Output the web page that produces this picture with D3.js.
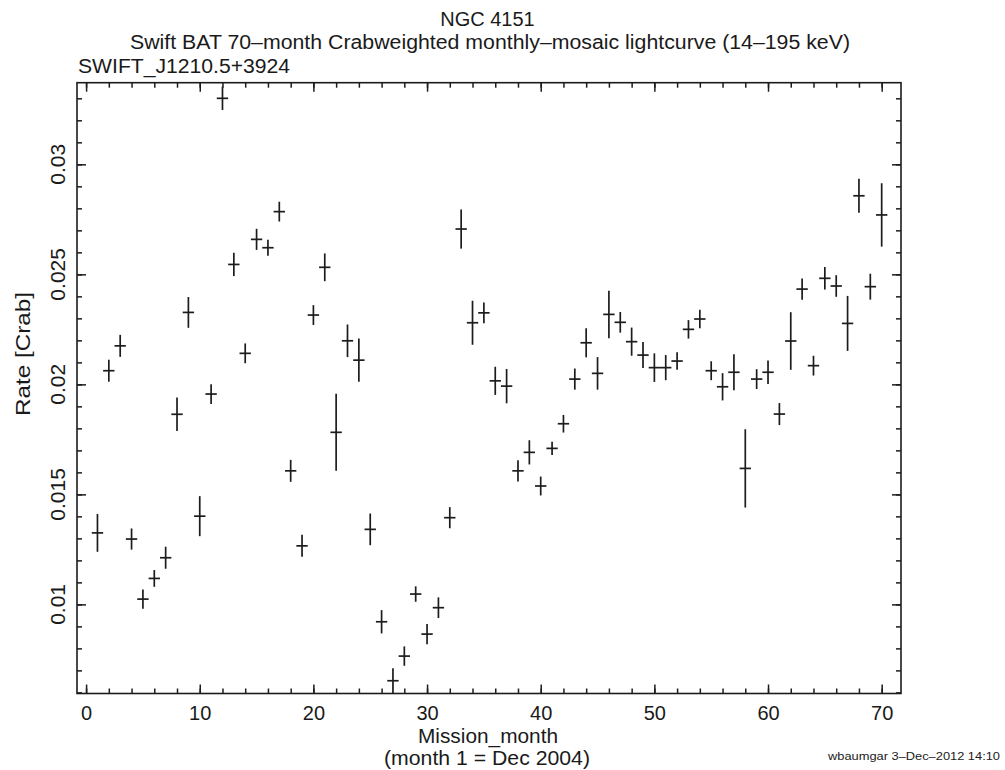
<!DOCTYPE html>
<html>
<head>
<meta charset="utf-8">
<script src="https://cdn.jsdelivr.net/npm/d3@7"></script>
<style>
html,body{margin:0;padding:0;background:#fff;}
svg text{font-family:"Liberation Sans",Arial,Helvetica,sans-serif;fill:#1a1a1a;}
</style>
</head>
<body>
<svg id="chart" width="1005" height="770"></svg>
<script>
// Mission months
const months = [1,2,3,4,5,6,7,8,9,10,11,12,13,14,15,16,17,18,19,20,21,22,23,24,25,26,27,28,29,30,31,32,33,34,35,36,37,38,39,40,41,42,43,44,45,46,47,48,49,50,51,52,53,54,55,56,57,58,59,60,61,62,63,64,65,66,67,68,69,70];
// Rate [Crab]
const rates = [0.01325,0.02062,0.02175,0.01297,0.01024,0.01118,0.01212,0.01864,0.02327,0.01401,
0.01956,0.0330,0.02545,0.02141,0.02659,0.02621,0.02785,0.01607,0.01266,0.02315,
0.02532,0.01782,0.02198,0.0211,0.01341,0.00921,0.00653,0.00765,0.01047,0.00865,
0.00985,0.01394,0.02706,0.0228,0.02325,0.02016,0.01992,0.01607,0.01691,0.01538,
0.01709,0.01821,0.02024,0.02189,0.0205,0.02318,0.02282,0.02194,0.02133,0.02076,
0.02076,0.02106,0.0225,0.02297,0.02062,0.01989,0.02055,0.01618,0.02024,0.02055,
0.01865,0.02197,0.02433,0.02085,0.02482,0.02447,0.02277,0.02857,0.02444,0.0277];
// 1-sigma errors on rate
const rateErrors = [0.00086,0.0005,0.0005,0.00048,0.00044,0.00038,0.0005,0.00076,0.0007,0.00091,
0.00045,0.00053,0.00053,0.00045,0.00048,0.00036,0.00045,0.0005,0.0005,0.00045,
0.00063,0.00175,0.00074,0.00098,0.00072,0.00053,0.00057,0.00044,0.00035,0.00046,
0.00047,0.00048,0.00089,0.001,0.00047,0.00064,0.00078,0.00048,0.00055,0.00043,
0.0003,0.0004,0.00048,0.00066,0.00074,0.00108,0.00047,0.00064,0.00059,0.00065,
0.00057,0.0004,0.00042,0.00042,0.00043,0.00062,0.00082,0.00178,0.00045,0.00053,
0.0005,0.00131,0.00048,0.00045,0.00051,0.00049,0.00125,0.00077,0.00059,0.00144];
const monthHalfWidth = 0.5;
const xMajorTicks = [0,10,20,30,40,50,60,70];
const xMinorTicks = d3.range(0, 72, 2);
const yMajorTicks = [0.01,0.015,0.02,0.025,0.03];
const yMinorTicks = d3.range(6,34).map(d=>d/1000);
const yTickLabels = ["0.01","0.015","0.02","0.025","0.03"];

const svg = d3.select("#chart");
const x = d3.scaleLinear().domain([-0.8,71.7]).range([77,901]);
const y = d3.scaleLinear().domain([0.00595,0.03371]).range([693.5,82.7]);
const ink = "#1c1c1c";

const data = months.map((m,i)=>({m, r:rates[i], e:rateErrors[i]}));

// frame
svg.append("rect").attr("x",x.range()[0]).attr("y",y.range()[1])
  .attr("width",x.range()[1]-x.range()[0]).attr("height",y.range()[0]-y.range()[1])
  .attr("fill","none").attr("stroke",ink).attr("stroke-width",1.6);

function styleAxis(g){
  g.select(".domain").remove();
  g.selectAll(".tick line").attr("stroke",ink).attr("stroke-width",1.5);
}
const MAJ=9, MIN=5;
// bottom
svg.append("g").attr("transform",`translate(0,${y.range()[0]})`)
  .call(d3.axisBottom(x).tickValues(xMinorTicks).tickSize(-MIN).tickFormat("")).call(styleAxis);
svg.append("g").attr("transform",`translate(0,${y.range()[0]})`)
  .call(d3.axisBottom(x).tickValues(xMajorTicks).tickSize(-MAJ).tickPadding(12).tickFormat(d3.format("d")))
  .call(styleAxis)
  .call(g=>g.selectAll("text").attr("font-size",20).attr("fill",ink).style("font-family",'"Liberation Sans",Arial,sans-serif'));
// top
svg.append("g").attr("transform",`translate(0,${y.range()[1]})`)
  .call(d3.axisTop(x).tickValues(xMinorTicks).tickSize(-MIN).tickFormat("")).call(styleAxis);
svg.append("g").attr("transform",`translate(0,${y.range()[1]})`)
  .call(d3.axisTop(x).tickValues(xMajorTicks).tickSize(-MAJ).tickFormat("")).call(styleAxis);
// left
svg.append("g").attr("transform",`translate(${x.range()[0]},0)`)
  .call(d3.axisLeft(y).tickValues(yMinorTicks).tickSize(-MIN).tickFormat("")).call(styleAxis);
svg.append("g").attr("transform",`translate(${x.range()[0]},0)`)
  .call(d3.axisLeft(y).tickValues(yMajorTicks).tickSize(-MAJ).tickFormat("")).call(styleAxis);
// right
svg.append("g").attr("transform",`translate(${x.range()[1]},0)`)
  .call(d3.axisRight(y).tickValues(yMinorTicks).tickSize(-MIN).tickFormat("")).call(styleAxis);
svg.append("g").attr("transform",`translate(${x.range()[1]},0)`)
  .call(d3.axisRight(y).tickValues(yMajorTicks).tickSize(-MAJ).tickFormat("")).call(styleAxis);

// y tick labels (rotated)
svg.append("g").selectAll("text").data(yMajorTicks).join("text")
  .attr("transform",(d)=>`translate(65,${y(d)}) rotate(-90)`)
  .attr("text-anchor","middle").attr("font-size",21)
  .text((d,i)=>yTickLabels[i]);

// error crosses
const pts = svg.append("g").attr("stroke",ink).attr("stroke-width",1.7);
pts.selectAll("line.v").data(data).join("line").attr("class","v")
  .attr("x1",d=>x(d.m)).attr("x2",d=>x(d.m))
  .attr("y1",d=>y(d.r-d.e)).attr("y2",d=>y(d.r+d.e));
pts.selectAll("line.h").data(data).join("line").attr("class","h")
  .attr("x1",d=>x(d.m-monthHalfWidth)).attr("x2",d=>x(d.m+monthHalfWidth))
  .attr("y1",d=>y(d.r)).attr("y2",d=>y(d.r));

// titles
svg.append("text").attr("x",487.5).attr("y",26).attr("text-anchor","middle").attr("font-size",20).text("NGC 4151");
svg.append("text").attr("x",490).attr("y",49).attr("text-anchor","middle").attr("font-size",20)
  .attr("textLength",720).attr("lengthAdjust","spacingAndGlyphs")
  .text("Swift BAT 70\u2013month Crabweighted monthly\u2013mosaic lightcurve (14\u2013195 keV)");
svg.append("text").attr("x",78).attr("y",73).attr("font-size",20)
  .attr("textLength",212).attr("lengthAdjust","spacingAndGlyphs").text("SWIFT_J1210.5+3924");
// axis titles
svg.append("text").attr("x",488).attr("y",743).attr("text-anchor","middle").attr("font-size",20)
  .attr("textLength",140).attr("lengthAdjust","spacingAndGlyphs").text("Mission_month");
svg.append("text").attr("x",487).attr("y",765).attr("text-anchor","middle").attr("font-size",20)
  .attr("textLength",206).attr("lengthAdjust","spacingAndGlyphs").text("(month 1 = Dec 2004)");
svg.append("text").attr("transform","translate(30,354) rotate(-90)").attr("text-anchor","middle").attr("font-size",21)
  .attr("textLength",124).attr("lengthAdjust","spacingAndGlyphs").text("Rate [Crab]");
svg.append("text").attr("x",1000).attr("y",760).attr("text-anchor","end").attr("font-size",11.5)
  .attr("textLength",172).attr("lengthAdjust","spacingAndGlyphs").text("wbaumgar  3\u2013Dec\u20132012 14:10");
</script>
</body>
</html>
